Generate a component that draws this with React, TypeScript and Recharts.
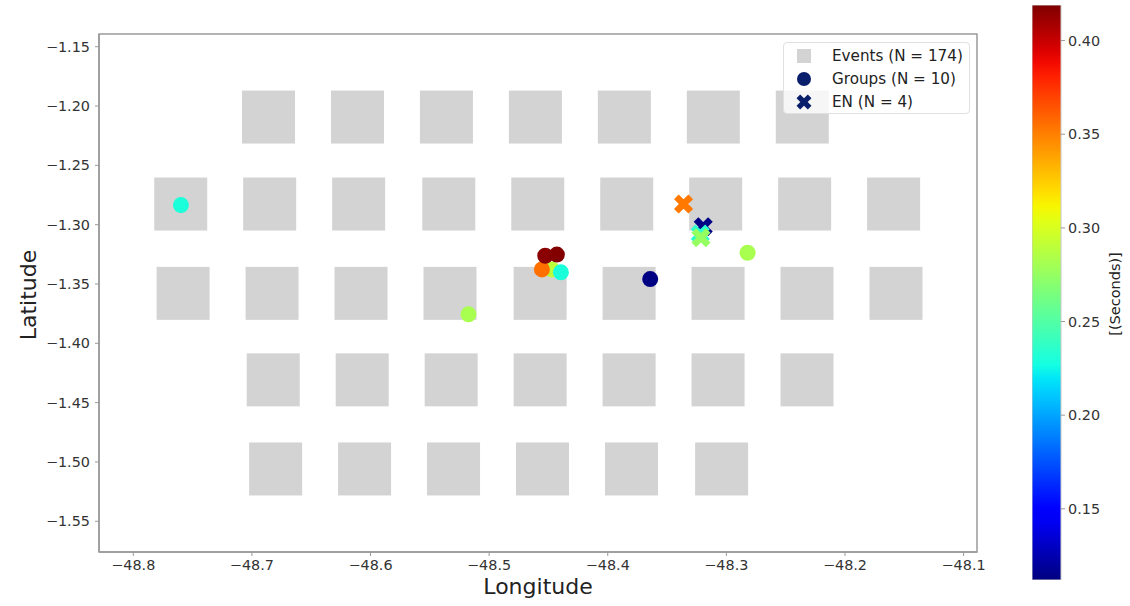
import React from "react";
import {
  ScatterChart,
  Scatter,
  XAxis,
  YAxis,
  Cell,
  Legend,
  ReferenceArea,
  ComposedChart,
  Bar,
} from "recharts";

// Event grid cells (one square per location, many events stacked)
const eventsLon = [
  -48.686, -48.611, -48.536, -48.461, -48.386, -48.311, -48.236,
  -48.76, -48.685, -48.61, -48.534, -48.459, -48.384, -48.309, -48.234, -48.159,
  -48.758, -48.683, -48.608, -48.533, -48.457, -48.382, -48.307, -48.232, -48.157,
  -48.682, -48.607, -48.532, -48.457, -48.382, -48.307, -48.232,
  -48.68, -48.605, -48.53, -48.455, -48.38, -48.304,
];
const eventsLat = [
  -1.2093, -1.2093, -1.2093, -1.2093, -1.2093, -1.2093, -1.2093,
  -1.2826, -1.2826, -1.2826, -1.2826, -1.2826, -1.2826, -1.2826, -1.2826, -1.2826,
  -1.3579, -1.3579, -1.3579, -1.3579, -1.3579, -1.3579, -1.3579, -1.3579, -1.3579,
  -1.4308, -1.4308, -1.4308, -1.4308, -1.4308, -1.4308, -1.4308,
  -1.5059, -1.5059, -1.5059, -1.5059, -1.5059, -1.5059,
];

// Groups (circles), colour = seconds
const groupsLon = [-48.7598, -48.5174, -48.4471, -48.4555, -48.4395, -48.4527, -48.4429, -48.3642, -48.2821];
const groupsLat = [-1.2835, -1.3756, -1.3377, -1.3377, -1.3402, -1.3262, -1.3252, -1.3459, -1.3237];
const groupsSec = [0.23, 0.282, 0.29, 0.355, 0.23, 0.416, 0.418, 0.113, 0.282];

// EN (crosses)
const enLon = [-48.3361, -48.3195, -48.322, -48.3214];
const enLat = [-1.2826, -1.3017, -1.3079, -1.311];
const enSec = [0.352, 0.114, 0.235, 0.275];

const lonTicks = [-48.8, -48.7, -48.6, -48.5, -48.4, -48.3, -48.2, -48.1];
const latTicks = [-1.55, -1.5, -1.45, -1.4, -1.35, -1.3, -1.25, -1.2, -1.15];
const secTicks = [0.15, 0.2, 0.25, 0.3, 0.35, 0.4];

const lonDomain = [-48.8289, -48.0887];
const latDomain = [-1.5759, -1.1393];
const secDomain = [0.112, 0.419];

const FONT = "'DejaVu Sans', sans-serif";
const NAVY = "#0a1f6b";
const SPINE = "#9a9a9a";

function interp(pts: number[][], t: number) {
  for (let i = 1; i < pts.length; i++) {
    if (t <= pts[i][0]) {
      const [x0, y0] = pts[i - 1];
      const [x1, y1] = pts[i];
      return y0 + ((t - x0) / (x1 - x0)) * (y1 - y0);
    }
  }
  return pts[pts.length - 1][1];
}

// matplotlib "jet"
function jet(t: number) {
  const c = Math.max(0, Math.min(1, t));
  const r = interp([[0, 0], [0.35, 0], [0.66, 1], [0.89, 1], [1, 0.5]], c);
  const g = interp([[0, 0], [0.125, 0], [0.375, 1], [0.64, 1], [0.91, 0], [1, 0]], c);
  const b = interp([[0, 0.5], [0.11, 1], [0.34, 1], [0.65, 0], [1, 0]], c);
  return `rgb(${Math.round(r * 255)},${Math.round(g * 255)},${Math.round(b * 255)})`;
}

const secColor = (s: number) => jet((s - secDomain[0]) / (secDomain[1] - secDomain[0]));

const events = eventsLon.map((lon, i) => ({ lon, lat: eventsLat[i] }));
const groups = groupsLon.map((lon, i) => ({ lon, lat: groupsLat[i], sec: groupsSec[i], color: secColor(groupsSec[i]) }));
const en = enLon.map((lon, i) => ({ lon, lat: enLat[i], sec: enSec[i], color: secColor(enSec[i]) }));

const fmt = (v: number, d: number) => v.toFixed(d).replace("-", "\u2212");

function XMark({ cx, cy, fill, w = 3.3, l = 10.2 }: { cx: number; cy: number; fill: string; w?: number; l?: number }) {
  const d = `M${-w},${-l}H${w}V${-w}H${l}V${w}H${w}V${l}H${-w}V${w}H${-l}V${-w}H${-w}Z`;
  return <path d={d} fill={fill} transform={`translate(${cx},${cy}) rotate(45)`} />;
}

function LegendBox() {
  const row = { display: "flex", alignItems: "center", height: 23 } as React.CSSProperties;
  const mark = { width: 30, display: "flex", justifyContent: "center", marginLeft: 5, marginRight: 13 } as React.CSSProperties;
  return (
    <div
      style={{
        width: 185,
        height: 69,
        background: "rgba(255,255,255,0.8)",
        border: "1px solid #e0e0e0",
        borderRadius: 4,
        fontFamily: FONT,
        fontSize: 15.2,
        color: "#222",
        boxSizing: "content-box",
        paddingTop: 1,
        whiteSpace: "nowrap",
      }}
    >
      <div style={row}>
        <span style={mark}>
          <svg width={16} height={16}><rect x={1} y={1} width={14} height={14} fill="#d3d3d3" /></svg>
        </span>
        <span>Events (N = 174)</span>
      </div>
      <div style={row}>
        <span style={mark}>
          <svg width={16} height={16}><circle cx={8} cy={8} r={7} fill={NAVY} /></svg>
        </span>
        <span>Groups (N = 10)</span>
      </div>
      <div style={row}>
        <span style={mark}>
          <svg width={16} height={16}><XMark cx={8} cy={8} fill={NAVY} w={2.6} l={8} /></svg>
        </span>
        <span>EN (N = 4)</span>
      </div>
    </div>
  );
}

const tickStyle = { fontSize: 14.4, fill: "#333", fontFamily: FONT };

export default function App() {
  const cbData = [{ name: "cb", range: secDomain }];
  return (
    <div style={{ position: "absolute", left: 0, top: 0, width: 1130, height: 606, background: "#fff", fontFamily: FONT }}>
      <div style={{ position: "absolute", left: 0, top: 0 }}>
        <ScatterChart width={1000} height={606} margin={{ top: 34, right: 23, bottom: 0, left: 0 }}>
          <XAxis
            type="number"
            dataKey="lon"
            domain={lonDomain}
            ticks={lonTicks}
            allowDataOverflow
            height={54}
            tick={tickStyle}
            tickFormatter={(v) => fmt(v, 1)}
            tickSize={4}
            tickMargin={4}
            stroke={SPINE}
            axisLine={{ stroke: SPINE, strokeWidth: 1.5 }}
            label={{
              content: (p: any) => (
                <text x={p.viewBox.x + p.viewBox.width / 2} y={594} textAnchor="middle" fontSize={22} fill="#222" fontFamily={FONT}>
                  Longitude
                </text>
              ),
            }}
          />
          <YAxis
            type="number"
            dataKey="lat"
            domain={latDomain}
            ticks={latTicks}
            allowDataOverflow
            width={99}
            tick={tickStyle}
            tickFormatter={(v) => fmt(v, 2)}
            tickSize={4}
            tickMargin={5}
            stroke={SPINE}
            axisLine={{ stroke: SPINE, strokeWidth: 1.5 }}
            label={{
              content: (p: any) => {
                const y = p.viewBox.y + p.viewBox.height / 2 + 2;
                return (
                  <text x={36} y={y} transform={`rotate(-90, 36, ${y})`} textAnchor="middle" fontSize={22} fill="#222" fontFamily={FONT}>
                    Latitude
                  </text>
                );
              },
            }}
          />
          <ReferenceArea
            x1={lonDomain[0]}
            x2={lonDomain[1]}
            y1={latDomain[0]}
            y2={latDomain[1]}
            fill="none"
            stroke={SPINE}
            strokeWidth={1.5}
            ifOverflow="visible"
          />
          <Scatter
            name="Events"
            data={events}
            isAnimationActive={false}
            shape={(p: any) => <rect x={p.cx - 26.5} y={p.cy - 26.5} width={53} height={53} fill="#d3d3d3" />}
          />
          <Scatter
            name="Groups"
            data={groups}
            isAnimationActive={false}
            shape={(p: any) => <circle cx={p.cx} cy={p.cy} r={8} fill={p.payload?.color ?? p.fill} />}
          >
            {groups.map((g, i) => (
              <Cell key={i} fill={g.color} />
            ))}
          </Scatter>
          <Scatter
            name="EN"
            data={en}
            isAnimationActive={false}
            shape={(p: any) => <XMark cx={p.cx} cy={p.cy} fill={p.payload?.color ?? p.fill} />}
          >
            {en.map((g, i) => (
              <Cell key={i} fill={g.color} />
            ))}
          </Scatter>
          <Legend
            layout="vertical"
            align="center"
            verticalAlign="middle"
            content={() => <LegendBox />}
            wrapperStyle={{ position: "absolute", left: 783, top: 42, width: 187, height: 71 }}
          />
        </ScatterChart>
      </div>

      {/* colour bar */}
      <div style={{ position: "absolute", left: 1032, top: 0 }}>
        <ComposedChart width={98} height={606} data={cbData} margin={{ top: 5, right: 0, bottom: 26, left: 0 }} barCategoryGap={0}>
          <defs>
            <linearGradient id="jetGrad" x1="0" y1="1" x2="0" y2="0">
              {Array.from({ length: 41 }, (_, i) => (
                <stop key={i} offset={`${(i / 40) * 100}%`} stopColor={jet(i / 40)} />
              ))}
            </linearGradient>
          </defs>
          <XAxis dataKey="name" hide />
          <YAxis
            orientation="right"
            type="number"
            domain={secDomain}
            ticks={secTicks}
            allowDataOverflow
            width={69}
            tick={tickStyle}
            tickFormatter={(v) => v.toFixed(2)}
            tickSize={4}
            tickMargin={3}
            stroke={SPINE}
            axisLine={false}
            label={{
              content: () => {
                const x = 88;
                const y = 294;
                return (
                  <text x={x} y={y} transform={`rotate(-90, ${x}, ${y})`} textAnchor="middle" fontSize={14.5} fill="#222" fontFamily={FONT}>
                    [(Seconds)]
                  </text>
                );
              },
            }}
          />
          <Bar dataKey="range" fill="url(#jetGrad)" stroke="#c8c8c8" strokeWidth={1} isAnimationActive={false} />
        </ComposedChart>
      </div>
    </div>
  );
}
